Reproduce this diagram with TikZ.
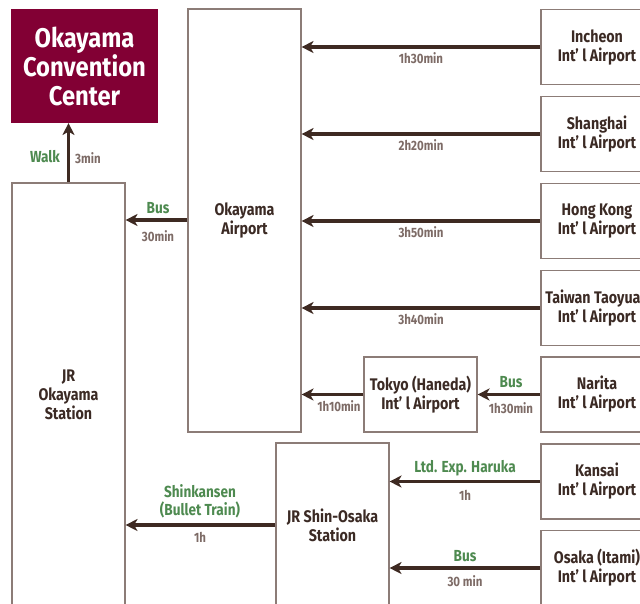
\documentclass[tikz,border=0pt]{standalone}
\usepackage{fontspec}
\setmainfont{Fira Sans}[FakeStretch=0.85]
\newfontfamily\ccfont{Fira Sans}[FakeStretch=0.88]
\usetikzlibrary{arrows.meta}
\definecolor{maroonc}{HTML}{820034}
\definecolor{boxc}{HTML}{8C7C77}
\definecolor{arrc}{HTML}{3E2A22}
\definecolor{txtc}{HTML}{3B2A24}
\definecolor{greenc}{HTML}{4E8A50}
\definecolor{greyc}{HTML}{7D6B66}
\begin{document}
\begin{tikzpicture}[x=1pt,y=-1pt,
  box/.style={draw=boxc, line width=1.1pt, inner sep=0pt, align=center, text=txtc,
    font=\bfseries\fontsize{16.8}{19}\selectfont},
  arr/.style={draw=arrc, line width=3.4pt, -{Stealth[length=12pt,width=12pt,inset=3.5pt]}},
  mode/.style={text=greenc, font=\bfseries\fontsize{16}{18}\selectfont, inner sep=0pt, align=center},
  tlab/.style={text=greyc, font=\bfseries\fontsize{13.5}{15}\selectfont, inner sep=0pt}
]
\useasboundingbox (0,0) rectangle (640,603);
% boxes
\node[box, fill=maroonc, draw=maroonc, text=white, minimum width=145pt, minimum height=113pt,
  font=\ccfont\bfseries\fontsize{27}{29}\selectfont] (cc) at (84.5,66) {Okayama\\Convention\\Center};
\node[box, minimum width=113pt, minimum height=424pt] (jro) at (68.5,395) {JR\\Okayama\\Station};
\node[box, minimum width=113pt, minimum height=423pt] (apt) at (244.5,220.5) {Okayama\\Airport};
\node[box, minimum width=113pt, minimum height=75pt] (hnd) at (420.5,394.5) {Tokyo (Haneda)\\Int’ l Airport};
\node[box, minimum width=113pt, minimum height=164pt] (sos) at (332.5,525) {JR Shin-Osaka\\Station};
\node[box, minimum width=112pt, minimum height=75pt] (inc) at (597,47) {Incheon\\Int’ l Airport};
\node[box, minimum width=112pt, minimum height=75pt] (sha) at (597,134) {Shanghai\\Int’ l Airport};
\node[box, minimum width=112pt, minimum height=75pt] (hkg) at (597,221) {Hong Kong\\Int’ l Airport};
\node[box, minimum width=112pt, minimum height=75pt] (tpe) at (597,308) {Taiwan Taoyuan\\Int’ l Airport};
\node[box, minimum width=112pt, minimum height=75pt] (nrt) at (597,394.5) {Narita\\Int’ l Airport};
\node[box, minimum width=112pt, minimum height=75pt] (kix) at (597,481.5) {Kansai\\Int’ l Airport};
\node[box, minimum width=112pt, minimum height=75pt] (itm) at (597,568) {Osaka (Itami)\\Int’ l Airport};
% connectors
\draw[arr] (jro.north) -- (jro.north |- cc.south);
\draw[arr] (apt.west |- 0,220) -- (jro.east |- 0,220);
\draw[arr] (inc.west) -- (inc.west -| apt.east);
\draw[arr] (sha.west) -- (sha.west -| apt.east);
\draw[arr] (hkg.west) -- (hkg.west -| apt.east);
\draw[arr] (tpe.west) -- (tpe.west -| apt.east);
\draw[arr] (nrt.west) -- (nrt.west -| hnd.east);
\draw[arr] (hnd.west) -- (hnd.west -| apt.east);
\draw[arr] (kix.west) -- (kix.west -| sos.east);
\draw[arr] (itm.west) -- (itm.west -| sos.east);
\draw[arr] (sos.west) -- (sos.west -| jro.east);
% labels
\node[mode] (lwalk) at (45,157) {Walk};
\node[tlab] (twalk) at (88,158) {3min};
\node[mode] (lbus1) at (158,208) {Bus};
\node[tlab] (tbus1) at (158,236) {30min};
\node[tlab] (tinc) at (421,58) {1h30min};
\node[tlab] (tsha) at (421,145) {2h20min};
\node[tlab] (thkg) at (421,232) {3h50min};
\node[tlab] (ttpe) at (421,319) {3h40min};
\node[mode] (lbus2) at (511,382) {Bus};
\node[tlab] (tnrt) at (511,408) {1h30min};
\node[tlab] (thnd) at (339,406) {1h10min};
\node[mode] (lkix) at (465,468) {Ltd. Exp. Haruka};
\node[tlab] (tkix) at (465,495) {1h};
\node[mode] (lbus3) at (465,556) {Bus};
\node[tlab] (titm) at (465,581) {30 min};
\node[mode] (lshk) at (200,501) {Shinkansen\\(Bullet Train)};
\node[tlab] (tshk) at (200,537) {1h};
\end{tikzpicture}
\end{document}
